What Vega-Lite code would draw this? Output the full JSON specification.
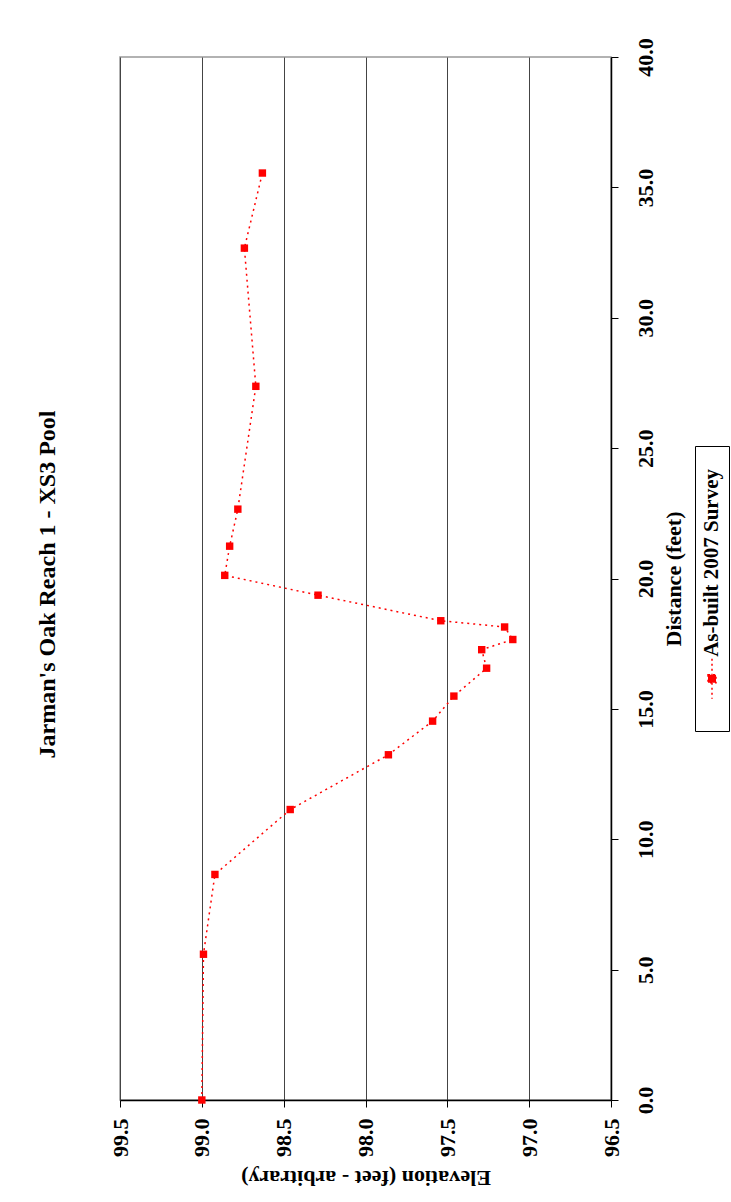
{
  "$schema": "https://vega.github.io/schema/vega-lite/v6.json",
  "width": 491,
  "height": 1043,
  "autosize": {"type": "none"},
  "padding": {"left": 120, "top": 57, "right": 120, "bottom": 102},
  "background": "white",
  "title": {
    "text": "Jarman's Oak Reach 1 - XS3 Pool",
    "orient": "left",
    "anchor": "middle",
    "font": "Liberation Serif",
    "fontSize": 24,
    "fontWeight": "bold",
    "color": "black",
    "offset": 49,
    "dx": -6
  },
  "config": {
    "view": {"stroke": "#999999", "strokeWidth": 1.5},
    "font": "Liberation Serif"
  },
  "data": {
    "values": [
      {"distance": 0.0, "elevation": 99.0, "series": "As-built 2007 Survey"},
      {"distance": 5.59, "elevation": 98.99, "series": "As-built 2007 Survey"},
      {"distance": 8.65, "elevation": 98.92, "series": "As-built 2007 Survey"},
      {"distance": 11.14, "elevation": 98.46, "series": "As-built 2007 Survey"},
      {"distance": 13.24, "elevation": 97.86, "series": "As-built 2007 Survey"},
      {"distance": 14.53, "elevation": 97.59, "series": "As-built 2007 Survey"},
      {"distance": 15.49, "elevation": 97.46, "series": "As-built 2007 Survey"},
      {"distance": 16.56, "elevation": 97.26, "series": "As-built 2007 Survey"},
      {"distance": 17.27, "elevation": 97.29, "series": "As-built 2007 Survey"},
      {"distance": 17.66, "elevation": 97.10, "series": "As-built 2007 Survey"},
      {"distance": 18.14, "elevation": 97.15, "series": "As-built 2007 Survey"},
      {"distance": 18.38, "elevation": 97.54, "series": "As-built 2007 Survey"},
      {"distance": 19.36, "elevation": 98.29, "series": "As-built 2007 Survey"},
      {"distance": 20.12, "elevation": 98.86, "series": "As-built 2007 Survey"},
      {"distance": 21.24, "elevation": 98.83, "series": "As-built 2007 Survey"},
      {"distance": 22.66, "elevation": 98.78, "series": "As-built 2007 Survey"},
      {"distance": 27.37, "elevation": 98.67, "series": "As-built 2007 Survey"},
      {"distance": 32.67, "elevation": 98.74, "series": "As-built 2007 Survey"},
      {"distance": 35.55, "elevation": 98.63, "series": "As-built 2007 Survey"}
    ]
  },
  "encoding": {
    "x": {
      "field": "elevation",
      "type": "quantitative",
      "scale": {"domain": [96.5, 99.5], "reverse": true, "nice": false, "zero": false},
      "axis": {
        "title": "Elevation (feet - arbitrary)",
        "values": [96.5, 97.0, 97.5, 98.0, 98.5, 99.0, 99.5],
        "format": ".1f",
        "grid": true,
        "gridColor": "#444444",
        "gridWidth": 1,
        "gridOpacity": 1,
        "domainColor": "black",
        "domainWidth": 1.5,
        "tickColor": "black",
        "tickSize": 7,
        "tickWidth": 1,
        "labelAngle": 270,
        "labelAlign": "right",
        "labelBaseline": "middle",
        "labelPadding": 11,
        "labelFont": "Liberation Serif",
        "labelFontSize": 22,
        "labelFontWeight": "bold",
        "labelColor": "black",
        "labelOverlap": false,
        "labelFlush": false,
        "titleAngle": 180,
        "titleBaseline": "bottom",
        "titleAlign": "center",
        "titlePadding": 9,
        "titleFont": "Liberation Serif",
        "titleFontSize": 22,
        "titleFontWeight": "bold",
        "titleColor": "black"
      }
    },
    "y": {
      "field": "distance",
      "type": "quantitative",
      "scale": {"domain": [0, 40], "nice": false},
      "axis": {
        "orient": "right",
        "title": "Distance (feet)",
        "values": [0, 5, 10, 15, 20, 25, 30, 35, 40],
        "format": ".1f",
        "grid": false,
        "domainColor": "black",
        "domainWidth": 1.5,
        "tickColor": "black",
        "tickSize": 7,
        "tickWidth": 1,
        "labelAngle": 270,
        "labelAlign": "center",
        "labelBaseline": "top",
        "labelPadding": 17,
        "labelFont": "Liberation Serif",
        "labelFontSize": 22,
        "labelFontWeight": "bold",
        "labelColor": "black",
        "labelOverlap": false,
        "labelFlush": false,
        "titleAngle": 270,
        "titleBaseline": "top",
        "titleAlign": "center",
        "titlePadding": 7,
        "titleFont": "Liberation Serif",
        "titleFontSize": 22,
        "titleFontWeight": "bold",
        "titleColor": "black"
      }
    },
    "order": {"field": "distance", "type": "quantitative"},
    "color": {
      "field": "series",
      "type": "nominal",
      "scale": {"range": ["#ff0000"]},
      "legend": {
        "title": "As-built 2007 Survey",
        "titleOrient": "top",
        "titleFont": "Liberation Serif",
        "titleFontSize": 21,
        "titleFontWeight": "bold",
        "titleColor": "black",
        "titleLimit": 400,
        "titlePadding": 28,
        "orient": "none",
        "legendX": 575,
        "legendY": 389,
        "strokeColor": "black",
        "fillColor": "white",
        "padding": 6,
        "symbolType": "M0,-2V-0.4M0,0.4V2M-0.4,-0.4H0.4V0.4H-0.4ZM0,4.3",
        "symbolSize": 400,
        "symbolFillColor": "#ff0000",
        "symbolStrokeColor": "#ff0000",
        "symbolStrokeWidth": 1.5,
        "symbolDash": [2, 3],
        "labelExpr": "''",
        "labelOffset": 0,
        "encoding": {
          "title": {
            "angle": {"value": -90},
            "align": {"value": "right"},
            "baseline": {"value": "top"},
            "dx": {"value": -17}
          }
        }
      }
    }
  },
  "layer": [
    {
      "mark": {"type": "line", "strokeDash": [2, 4], "strokeWidth": 1.5, "clip": false}
    },
    {
      "mark": {"type": "square", "size": 55, "opacity": 1, "filled": true}
    }
  ]
}
